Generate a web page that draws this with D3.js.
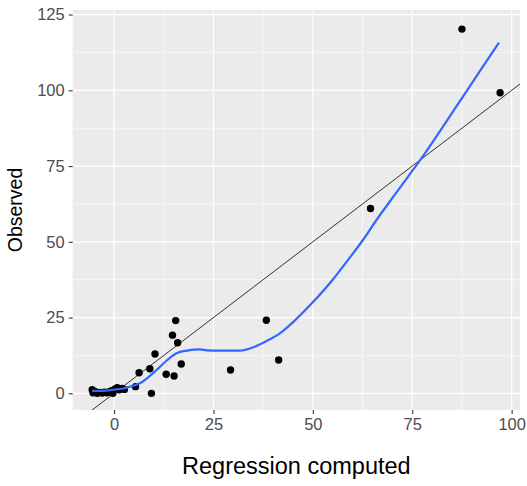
<!DOCTYPE html>
<html>
<head>
<meta charset="utf-8">
<script src="https://cdn.jsdelivr.net/npm/d3@7"></script>
<style>
  body { margin: 0; background: #fff; }
  text { font-family: "Liberation Sans", Arial, sans-serif; }
</style>
</head>
<body>
<div id="main"></div>
<script>
const ctx = {
    w: 527,
    h: 486,
    left: 72.7,
    right: 520,
    top: 10,
    bottom: 410
};

// observed points (x = regression computed, y = observed)
const obsX = [-5.5, -5.3, -4.8, -4.2, -3.6, -3.0, -2.4, -1.8, -1.2, -0.6, -0.3, 0.2, 0.8, 1.3, 2.0, 2.6,
              5.4, 6.3, 9.0, 9.4, 10.3, 13.1, 14.7, 15.1, 15.5, 16.0, 16.9,
              29.3, 38.3, 41.4, 64.5, 87.5, 97.1];
const obsY = [1.2, 0.2, 0.6, 0.0, 0.3, 0.1, 0.4, 0.2, 0.5, 0.9, 0.0, 1.4, 1.9, 1.2, 1.6, 1.3,
              2.2, 6.8, 8.1, 0.0, 13.0, 6.3, 19.2, 5.7, 24.0, 16.7, 9.7,
              7.7, 24.1, 11.0, 61.0, 120.2, 99.2];

// loess smooth
const smoothX = [-5.5, -3, 0, 2.3, 4.5, 6.5, 8.5, 10.7, 13.4, 15.7, 18.3, 21.6, 23.3, 27, 31.7, 35,
                 38.4, 41.7, 45.1, 50.1, 55, 59, 62.6, 66, 70.2, 74, 77.7, 81.9, 86.1, 88.6, 92, 96.8];
const smoothY = [0.8, 0.8, 1.2, 1.6, 2.4, 3.3, 5.2, 7.7, 11, 13.2, 14.1, 14.5, 14.2, 14.1, 14.1, 15.2,
                 17.3, 19.8, 23.6, 30.2, 37.5, 44.3, 50.6, 57.2, 64.8, 71.6, 78.3, 86.4, 94.7, 99.6, 106.3, 115.7];

// reference line y = x
const refSlope = 1, refIntercept = 0;

const xTicks = [0, 25, 50, 75, 100];
const yTicks = [0, 25, 50, 75, 100, 125];
const xMinor = [12.5, 37.5, 62.5, 87.5];
const yMinor = [12.5, 37.5, 62.5, 87.5, 112.5];

function createViz() {
    let svg = d3.select("#main").append("svg")
        .attr("width", ctx.w)
        .attr("height", ctx.h);

    let xScale = d3.scaleLinear().domain([-10.4, 102.1]).range([ctx.left, ctx.right]);
    let yScale = d3.scaleLinear().domain([-5.5, 126.5]).range([ctx.bottom, ctx.top]);

    // panel background
    svg.append("rect")
        .attr("x", ctx.left).attr("y", ctx.top)
        .attr("width", ctx.right - ctx.left).attr("height", ctx.bottom - ctx.top)
        .attr("fill", "#EBEBEB");

    let grid = svg.append("g");
    // minor grid
    grid.selectAll(".vminor").data(xMinor).enter().append("line")
        .attr("x1", d => xScale(d)).attr("x2", d => xScale(d))
        .attr("y1", ctx.top).attr("y2", ctx.bottom)
        .attr("stroke", "#fff").attr("stroke-width", 0.6);
    grid.selectAll(".hminor").data(yMinor).enter().append("line")
        .attr("y1", d => yScale(d)).attr("y2", d => yScale(d))
        .attr("x1", ctx.left).attr("x2", ctx.right)
        .attr("stroke", "#fff").attr("stroke-width", 0.6);
    // major grid
    grid.selectAll(".vmajor").data(xTicks).enter().append("line")
        .attr("x1", d => xScale(d)).attr("x2", d => xScale(d))
        .attr("y1", ctx.top).attr("y2", ctx.bottom)
        .attr("stroke", "#fff").attr("stroke-width", 1.2);
    grid.selectAll(".hmajor").data(yTicks).enter().append("line")
        .attr("y1", d => yScale(d)).attr("y2", d => yScale(d))
        .attr("x1", ctx.left).attr("x2", ctx.right)
        .attr("stroke", "#fff").attr("stroke-width", 1.2);

    // axes
    let xAxis = d3.axisBottom(xScale).tickValues(xTicks).tickSize(4).tickPadding(4);
    let xG = svg.append("g")
        .attr("transform", "translate(0," + ctx.bottom + ")")
        .call(xAxis);
    let yAxis = d3.axisLeft(yScale).tickValues(yTicks).tickSize(4).tickPadding(4);
    let yG = svg.append("g")
        .attr("transform", "translate(" + ctx.left + ",0)")
        .call(yAxis);
    [xG, yG].forEach(g => {
        g.select(".domain").remove();
        g.selectAll(".tick line").attr("stroke", "#333333").attr("stroke-width", 1.1);
        g.selectAll(".tick text")
            .attr("fill", "#4D4D4D")
            .style("font-size", "16.5px")
            .style("font-family", "Liberation Sans, Arial, sans-serif");
    });

    // clip to panel
    svg.append("clipPath").attr("id", "panelClip")
        .append("rect")
        .attr("x", ctx.left).attr("y", ctx.top)
        .attr("width", ctx.right - ctx.left).attr("height", ctx.bottom - ctx.top);
    let plotG = svg.append("g").attr("clip-path", "url(#panelClip)");

    // points
    let pts = obsX.map((x, i) => ({x: x, y: obsY[i]}));
    plotG.selectAll("circle").data(pts).enter().append("circle")
        .attr("cx", d => xScale(d.x))
        .attr("cy", d => yScale(d.y))
        .attr("r", 3.7)
        .attr("fill", "black");

    // reference line
    let xd = xScale.domain();
    plotG.append("line")
        .attr("x1", xScale(xd[0])).attr("y1", yScale(refIntercept + refSlope * xd[0]))
        .attr("x2", xScale(xd[1])).attr("y2", yScale(refIntercept + refSlope * xd[1]))
        .attr("stroke", "black").attr("stroke-width", 0.8);

    // smooth
    let sm = smoothX.map((x, i) => [x, smoothY[i]]);
    plotG.append("path")
        .datum(sm)
        .attr("fill", "none")
        .attr("stroke", "#3366FF")
        .attr("stroke-width", 2.2)
        .attr("d", d3.line()
            .x(d => xScale(d[0]))
            .y(d => yScale(d[1]))
            .curve(d3.curveMonotoneX));

    // titles
    svg.append("text")
        .attr("x", (ctx.left + ctx.right) / 2)
        .attr("y", 474)
        .attr("text-anchor", "middle")
        .style("font-size", "23.5px")
        .attr("fill", "black")
        .text("Regression computed");
    svg.append("text")
        .attr("transform", "translate(22," + ((ctx.top + ctx.bottom) / 2) + ") rotate(-90)")
        .attr("text-anchor", "middle")
        .style("font-size", "19.5px")
        .attr("fill", "black")
        .text("Observed");
}

createViz();
</script>
</body>
</html>
